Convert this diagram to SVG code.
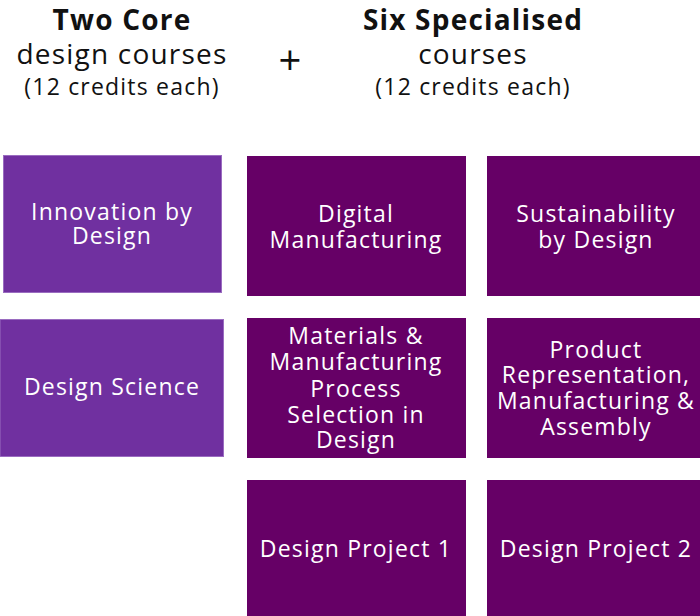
<svg xmlns="http://www.w3.org/2000/svg" width="700" height="616" viewBox="0 0 700 616">
<style>
text{font-family:"Open Sans","Liberation Sans",sans-serif;text-anchor:middle;letter-spacing:1.2px}
.h{fill:#111;font-size:28px;font-weight:400}
.hb{fill:#111;font-size:28px;font-weight:700}
.hs{fill:#111;font-size:23px;font-weight:400}
.core{fill:#7030A0;stroke:#9a6cc0;stroke-width:1}
.spec{fill:#660066}
.t{fill:#fff;font-size:23px;font-weight:400}
</style>
<rect width="700" height="616" fill="#fff"/>
<g id="heading-core">
<text class="hb" x="122" y="30">Two Core</text>
<text class="h" x="122" y="64">design courses</text>
<text class="hs" x="122" y="95">(12 credits each)</text>
</g>
<g id="plus"><text class="h" x="290" y="75" style="font-size:40px;letter-spacing:0">+</text></g>
<g id="heading-spec">
<text class="hb" x="473" y="30">Six Specialised</text>
<text class="h" x="473" y="64">courses</text>
<text class="hs" x="473" y="95">(12 credits each)</text>
</g>
<g id="connectors"/>
<g id="innovation"><rect class="core" x="3.5" y="155.5" width="218" height="137"/><text class="t" x="112" y="220">Innovation by</text><text class="t" x="112" y="244">Design</text></g>
<g id="design-science"><rect class="core" x="0" y="319.5" width="223.5" height="137"/><text class="t" x="112" y="395">Design Science</text></g>
<g id="digital"><rect class="spec" x="247" y="156" width="219" height="140"/><text class="t" x="356" y="222">Digital</text><text class="t" x="356" y="248">Manufacturing</text></g>
<g id="sustainability"><rect class="spec" x="487" y="156" width="213" height="140"/><text class="t" x="596" y="222">Sustainability</text><text class="t" x="596" y="248">by Design</text></g>
<g id="materials"><rect class="spec" x="247" y="318" width="219" height="140"/><text class="t" x="356" y="344">Materials &amp;</text><text class="t" x="356" y="370">Manufacturing</text><text class="t" x="356" y="397">Process</text><text class="t" x="356" y="423">Selection in</text><text class="t" x="356" y="448">Design</text></g>
<g id="product"><rect class="spec" x="487" y="318" width="213" height="140"/><text class="t" x="596" y="358">Product</text><text class="t" x="596" y="383">Representation,</text><text class="t" x="596" y="409">Manufacturing &amp;</text><text class="t" x="596" y="435">Assembly</text></g>
<g id="project1"><rect class="spec" x="247" y="480" width="219" height="136"/><text class="t" x="356" y="557">Design Project 1</text></g>
<g id="project2"><rect class="spec" x="487" y="480" width="213" height="136"/><text class="t" x="596" y="557">Design Project 2</text></g>
</svg>
